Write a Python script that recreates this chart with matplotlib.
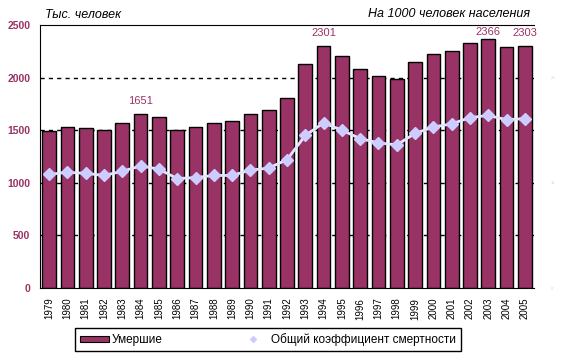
import matplotlib
matplotlib.use("Agg")
import matplotlib.pyplot as plt
import numpy as np
from matplotlib.patches import Patch
from matplotlib.lines import Line2D

plt.rcParams['font.family'] = ['Liberation Sans', 'DejaVu Sans']

# data
years = [str(y) for y in range(1979, 2006)]
deaths = [1490, 1526, 1524, 1504, 1564, 1651, 1625, 1498, 1532, 1569, 1584, 1656, 1691,
          1807, 2129, 2301, 2204, 2082, 2016, 1989, 2144, 2225, 2255, 2332, 2366, 2295, 2303]
rate = [10.8, 11.0, 10.9, 10.7, 11.1, 11.6, 11.3, 10.4, 10.5, 10.7, 10.7, 11.2, 11.4,
        12.2, 14.5, 15.7, 15.0, 14.2, 13.8, 13.6, 14.7, 15.3, 15.6, 16.2, 16.4, 16.0, 16.1]
labelled_years = ['1984', '1994', '2003', '2005']

bar_col = '#993366'
line_col = '#ccccff'

fig = plt.figure(figsize=(5.63, 3.6), dpi=100)
ax = fig.add_axes([40/563, 1-288/360, 494/563, 263/360])
x = np.arange(len(years))

# dashed grid behind the bars
for g in [500, 1000, 1500, 2000]:
    ax.axhline(g, color='black', lw=1, ls=(0, (3, 3)), zorder=0)
ax.bar(x, deaths, width=0.75, color=bar_col, edgecolor='black', linewidth=1, zorder=2)

for yr in labelled_years:
    i = years.index(yr)
    off = 5 if yr == '2003' else 9.5
    ax.annotate(str(deaths[i]), (x[i], deaths[i]), xytext=(0, off), textcoords='offset points',
                ha='center', va='center', color=bar_col, fontsize=8)

ax.set_xlim(-0.5, len(years) - 0.5)
ax.set_ylim(0, 2500)
ax.set_yticks([0, 500, 1000, 1500, 2000, 2500])
ax.tick_params(axis='y', length=0, pad=7, labelcolor=bar_col, labelsize=7.5)
for t in ax.get_yticklabels():
    t.set_fontweight('bold')
ax.set_xticks(x)
ax.set_xticklabels(years, rotation=90, fontsize=7)
ax.tick_params(axis='x', length=0, pad=7)
ax.spines['right'].set_visible(False)

# rate per 1000 on the secondary axis
ax2 = ax.twinx()
ax2.plot(x, rate, color='#e4e4ff', lw=2, marker='D', markersize=6.5,
         markerfacecolor=line_col, markeredgecolor=line_col, zorder=3)
ax2.set_ylim(0, 25)
ax2.set_yticks([0, 10, 20])
ax2.set_yticklabels(['0', '10', '20'])
ax2.tick_params(axis='y', length=0, pad=12, labelcolor=line_col, labelsize=3)
for s in ax2.spines.values():
    s.set_visible(False)

fig.text(45/563, 1-15/360, 'Тыс. человек', fontsize=9, style='italic', va='center', ha='left')
fig.text(530/563, 1-14/360, 'На 1000 человек населения', fontsize=9, style='italic',
         va='center', ha='right')

handles = [Patch(facecolor=bar_col, edgecolor='black', linewidth=0.8),
           Line2D([], [], color='none', marker='D', markersize=3,
                  markerfacecolor=line_col, markeredgecolor=line_col)]
leg = fig.legend(handles, ['Умершие', 'Общий коэффициент смертности'], loc='center',
                 bbox_to_anchor=(268/563, 1-339.5/360), ncol=2, fontsize=8.5,
                 fancybox=False, edgecolor='black', framealpha=1, handlelength=2.4,
                 handleheight=0.4, handletextpad=0.25, columnspacing=6.5, borderpad=0.45,
                 borderaxespad=0)
leg.get_frame().set_linewidth(1)

fig.savefig('out.png', dpi=100)
